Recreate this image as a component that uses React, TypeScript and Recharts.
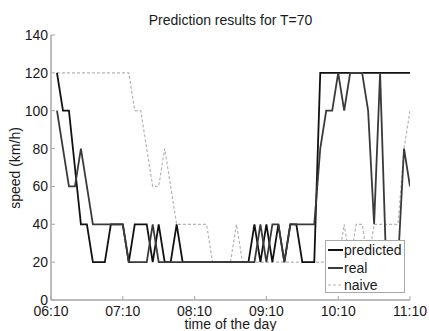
import React from 'react';
import { LineChart, Line, XAxis, YAxis } from 'recharts';

const timeLabels = [
  '06:15', '06:20', '06:25', '06:30', '06:35', '06:40', '06:45', '06:50', '06:55',
  '07:00', '07:05', '07:10', '07:15', '07:20', '07:25', '07:30', '07:35', '07:40', '07:45', '07:50', '07:55',
  '08:00', '08:05', '08:10', '08:15', '08:20', '08:25', '08:30', '08:35', '08:40', '08:45', '08:50', '08:55',
  '09:00', '09:05', '09:10', '09:15', '09:20', '09:25', '09:30', '09:35', '09:40', '09:45', '09:50', '09:55',
  '10:00', '10:05', '10:10', '10:15', '10:20', '10:25', '10:30', '10:35', '10:40', '10:45', '10:50', '10:55',
  '11:00', '11:05', '11:10',
];

const predicted = [
  120, 100, 100, 70, 40, 40, 20, 20, 20, 40,
  40, 40, 20, 40, 40, 40, 20, 40, 20, 20,
  40, 20, 20, 20, 20, 20, 20, 20, 20, 20,
  20, 20, 20, 40, 20, 40, 20, 40, 20, 40,
  40, 20, 20, 20, 120, 120, 120, 120, 120, 120,
  120, 120, 120, 120, 120, 120, 120, 120, 120, 120,
];

const real = [
  100, 80, 60, 60, 80, 60, 40, 40, 40, 40,
  40, 40, 20, 20, 20, 20, 40, 20, 20, 20,
  20, 20, 20, 20, 20, 20, 20, 20, 20, 20,
  20, 20, 20, 20, 40, 20, 40, 40, 20, 40,
  40, 40, 40, 40, 80, 100, 100, 120, 100, 120,
  120, 120, 100, 40, 120, 20, 20, 20, 80, 60,
];

const naive = [
  120, 120, 120, 120, 120, 120, 120, 120, 120, 120,
  120, 120, 120, 100, 100, 80, 60, 60, 80, 60,
  40, 40, 40, 40, 40, 40, 20, 20, 20, 20,
  40, 20, 20, 20, 20, 20, 20, 20, 20, 20,
  20, 20, 20, 20, 20, 20, 20, 20, 40, 20,
  40, 40, 20, 40, 40, 40, 40, 40, 80, 100,
];

const xTickLabels = ['06:10', '07:10', '08:10', '09:10', '10:10', '11:10'];
const yTicks = [0, 20, 40, 60, 80, 100, 120, 140];

const toMin = (s: string) => {
  const [h, m] = s.split(':').map(Number);
  return h * 60 + m;
};

const data = timeLabels.map((lab, i) => ({
  t: toMin(lab),
  predicted: predicted[i],
  real: real[i],
  naive: naive[i],
}));
const xTicks = xTickLabels.map(toMin);
const xDomain = [xTicks[0], xTicks[xTicks.length - 1]];
const labelOf: Record<number, string> = {};
xTickLabels.forEach((l) => (labelOf[toMin(l)] = l));

const FONT = '"Liberation Sans", Arial, Helvetica, sans-serif';
const AXIS = '#a8a8a8';
const TXT = '#1a1a1a';
const TL = 4;

const XTickBottom = (p: any) => (
  <g>
    <line x1={p.x} y1={p.y} x2={p.x} y2={p.y - TL} stroke={AXIS} strokeWidth={1} />
    <text x={p.x} y={p.y + 15.5} textAnchor="middle" fontSize={14} fontFamily={FONT} fill={TXT}>
      {labelOf[p.payload.value]}
    </text>
  </g>
);
const XTickTop = (p: any) => (
  <line x1={p.x} y1={p.y} x2={p.x} y2={p.y + TL} stroke={AXIS} strokeWidth={1} />
);
const YTickLeft = (p: any) => (
  <g>
    <line x1={p.x} y1={p.y} x2={p.x + TL} y2={p.y} stroke={AXIS} strokeWidth={1} />
    <text x={p.x - 3} y={p.y + 5} textAnchor="end" fontSize={14} fontFamily={FONT} fill={TXT}>
      {p.payload.value}
    </text>
  </g>
);
const YTickRight = (p: any) => (
  <line x1={p.x} y1={p.y} x2={p.x - TL} y2={p.y} stroke={AXIS} strokeWidth={1} />
);

const legendItems = [
  { name: 'predicted', color: '#111111', dash: undefined as string | undefined, w: 2 },
  { name: 'real', color: '#3a3a3a', dash: undefined as string | undefined, w: 2 },
  { name: 'naive', color: '#b5b5b5', dash: '3 2', w: 1.2 },
];

const LegendBox = () => (
  <div
    style={{
      position: 'absolute',
      left: 325,
      top: 240,
      width: 80,
      height: 53,
      boxSizing: 'border-box',
      border: `1px solid ${AXIS}`,
      background: '#fff',
      paddingTop: 0.5,
      fontFamily: FONT,
      fontSize: 14,
      color: TXT,
    }}
  >
    {legendItems.map((it) => (
      <div key={it.name} style={{ height: 17.5, display: 'flex', alignItems: 'center' }}>
        <svg width={17} height={10} style={{ marginLeft: 1 }}>
          <line x1={1} y1={5} x2={16} y2={5} stroke={it.color} strokeWidth={it.w} strokeDasharray={it.dash} />
        </svg>
        <span style={{ lineHeight: '14px' }}>{it.name}</span>
      </div>
    ))}
  </div>
);

export default function App() {
  return (
    <div style={{ position: 'absolute', left: 0, top: 0, width: 429, height: 331, background: '#fff' }}>
      <LineChart width={429} height={331} data={data} margin={{ top: 35, right: 19, bottom: 0, left: 0 }}>
        <XAxis
          dataKey="t"
          type="number"
          domain={xDomain}
          ticks={xTicks}
          height={31}
          tickSize={0}
          tickMargin={0}
          tick={<XTickBottom />}
          axisLine={{ stroke: AXIS, strokeWidth: 1.5 }}
          tickLine={false}
          interval={0}
          allowDataOverflow
        />
        <XAxis
          xAxisId="top"
          orientation="top"
          dataKey="t"
          type="number"
          domain={xDomain}
          ticks={xTicks}
          height={0}
          tickSize={0}
          tickMargin={0}
          tick={<XTickTop />}
          axisLine={{ stroke: AXIS, strokeWidth: 1.5 }}
          tickLine={false}
          interval={0}
          allowDataOverflow
        />
        <YAxis
          type="number"
          domain={[0, 140]}
          ticks={yTicks}
          width={51}
          tickSize={0}
          tickMargin={0}
          tick={<YTickLeft />}
          axisLine={{ stroke: AXIS, strokeWidth: 1.5 }}
          tickLine={false}
          interval={0}
          allowDataOverflow
        />
        <YAxis
          yAxisId="right"
          orientation="right"
          type="number"
          domain={[0, 140]}
          ticks={yTicks}
          width={0}
          tickSize={0}
          tickMargin={0}
          tick={<YTickRight />}
          axisLine={{ stroke: AXIS, strokeWidth: 1.5 }}
          tickLine={false}
          interval={0}
          allowDataOverflow
        />
        <Line
          dataKey="naive"
          stroke="#b5b5b5"
          strokeWidth={1.2}
          strokeDasharray="3 2"
          dot={false}
          activeDot={false}
          isAnimationActive={false}
          type="linear"
        />
        <Line
          dataKey="predicted"
          stroke="#111111"
          strokeWidth={1.8}
          dot={false}
          activeDot={false}
          isAnimationActive={false}
          type="linear"
        />
        <Line
          dataKey="real"
          stroke="#3a3a3a"
          strokeWidth={1.8}
          dot={false}
          activeDot={false}
          isAnimationActive={false}
          type="linear"
        />
      </LineChart>
      <LegendBox />
      <div
        style={{
          position: 'absolute',
          left: 80.5,
          top: 13,
          width: 300,
          textAlign: 'center',
          fontFamily: FONT,
          fontSize: 14,
          lineHeight: '14px',
          color: TXT,
        }}
      >
        Prediction results for T=70
      </div>
      <div
        style={{
          position: 'absolute',
          left: 80.5,
          top: 318,
          width: 300,
          textAlign: 'center',
          fontFamily: FONT,
          fontSize: 14,
          lineHeight: '13px',
          color: TXT,
        }}
      >
        time of the day
      </div>
      <div
        style={{
          position: 'absolute',
          left: 15 - 60,
          top: 168 - 7,
          width: 120,
          textAlign: 'center',
          fontFamily: FONT,
          fontSize: 14,
          lineHeight: '14px',
          color: TXT,
          transform: 'rotate(-90deg)',
        }}
      >
        speed (km/h)
      </div>
    </div>
  );
}
